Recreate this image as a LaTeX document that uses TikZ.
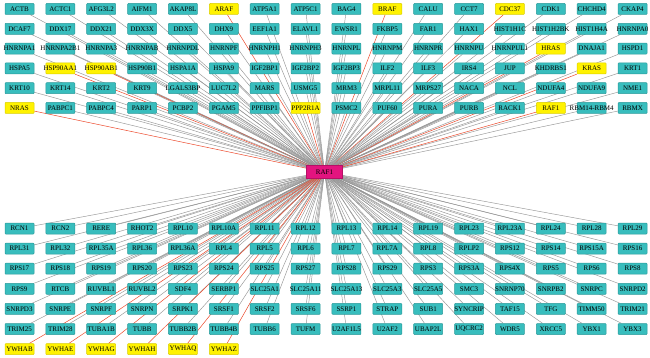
\documentclass[tikz,border=0pt]{standalone}
\usepackage{fontspec}
\setmainfont{Liberation Serif}
\pgfdeclarelayer{links}
\pgfsetlayers{links,main}
\definecolor{cteal}{HTML}{38BDBD}
\definecolor{ctealdk}{HTML}{2A9A9A}
\definecolor{cyellow}{HTML}{FFF200}
\definecolor{cmagenta}{HTML}{E3147F}
\definecolor{cwire}{HTML}{959595}
\definecolor{cred}{HTML}{EC4A2C}

\begin{document}
\begin{tikzpicture}[
  x=1pt, y=-1pt,
  font=\fontsize{7}{8}\selectfont,
  gene/.style={
    rectangle, rounded corners=0.8pt,
    fill=cteal, draw=ctealdk, line width=0.5pt,
    minimum width=29pt, minimum height=11pt, inner sep=0pt
  },
  hitbox/.style={fill=cyellow, draw=cyellow!85!black},
  hubbox/.style={
    rectangle, fill=cmagenta, draw=cmagenta!80!black, line width=0.5pt,
    minimum width=36pt, minimum height=13pt, inner sep=0pt
  },
  wire/.style={draw=cwire, line width=0.45pt},
  hitwire/.style={draw=cred, line width=0.5pt},
  % yellow partners, red links
  pick/ARAF/.style=hit#1, pick/BRAF/.style=hit#1, pick/CDC37/.style=hit#1,
  pick/HRAS/.style=hit#1, pick/KRAS/.style=hit#1, pick/NRAS/.style=hit#1,
  pick/HSP90AA1/.style=hit#1, pick/HSP90AB1/.style=hit#1,
  pick/PPP2R1A/.style=hit#1, pick/RAF1/.style=hit#1,
  pick/YWHAB/.style=hit#1, pick/YWHAE/.style=hit#1, pick/YWHAG/.style=hit#1,
  pick/YWHAH/.style=hit#1, pick/YWHAQ/.style=hit#1, pick/YWHAZ/.style=hit#1
]
\useasboundingbox (0,0) rectangle (650,358);

\node[hubbox] (hub) at (324.5,172) {RAF1};

% upper block
\foreach \genes [count=\ri from 0] in {
  {ACTB,ACTC1,AFG3L2,AIFM1,AKAP8L,ARAF,ATP5A1,ATP5C1,BAG4,BRAF,CALU,CCT7,CDC37,CDK1,CHCHD4,CKAP4},
  {DCAF7,DDX17,DDX21,DDX3X,DDX5,DHX9,EEF1A1,ELAVL1,EWSR1,FKBP5,FAR1,HAX1,HIST1H1C,HIST1H2BK,HIST1H4A,HNRNPA0},
  {HNRNPA1,HNRNPA2B1,HNRNPA3,HNRNPAB,HNRNPDL,HNRNPF,HNRNPH1,HNRNPH3,HNRNPL,HNRNPM,HNRNPR,HNRNPU,HNRNPUL1,HRAS,DNAJA1,HSPD1},
  {HSPA5,HSP90AA1,HSP90AB1,HSP90B1,HSPA1A,HSPA9,IGF2BP1,IGF2BP2,IGF2BP3,ILF2,ILF3,IRS4,JUP,KHDRBS1,KRAS,KRT1},
  {KRT10,KRT14,KRT2,KRT9,LGALS3BP,LUC7L2,MARS,USMG5,MRM3,MRPL11,MRPS27,NACA,NCL,NDUFA4,NDUFA9,NME1},
  {NRAS,PABPC1,PABPC4,PARP1,PCBP2,PGAM5,PPFIBP1,PPP2R1A,PSMC2,PUF60,PURA,PURB,RACK1,RAF1,RBM14-RBM4,RBMX}} {
  \foreach \g [count=\ci from 0] in \genes {
    \node[gene, pick/\g/.try=box] (\g) at ({19.5+40.87*\ci}, {9+19.8*\ri}) {\makebox[0pt]{\g}};
    \begin{pgfonlayer}{links}
      \draw[wire, pick/\g/.try=wire] (hub) -- (\g);
    \end{pgfonlayer}
  }
}

% lower block
\foreach \genes [count=\ri from 0] in {
  {RCN1,RCN2,RERE,RHOT2,RPL10,RPL10A,RPL11,RPL12,RPL13,RPL14,RPL19,RPL23,RPL23A,RPL24,RPL28,RPL29},
  {RPL31,RPL32,RPL35A,RPL36,RPL36A,RPL4,RPL5,RPL6,RPL7,RPL7A,RPL8,RPLP2,RPS12,RPS14,RPS15A,RPS16},
  {RPS17,RPS18,RPS19,RPS20,RPS23,RPS24,RPS25,RPS27,RPS28,RPS29,RPS3,RPS3A,RPS4X,RPS5,RPS6,RPS8},
  {RPS9,RTCB,RUVBL1,RUVBL2,SDF4,SERBP1,SLC25A1,SLC25A11,SLC25A13,SLC25A3,SLC25A5,SMC3,SNRNP70,SNRPB2,SNRPC,SNRPD2},
  {SNRPD3,SNRPE,SNRPF,SNRPN,SRPK1,SRSF1,SRSF2,SRSF6,SSRP1,STRAP,SUB1,SYNCRIP,TAF15,TFG,TIMM50,TRIM21},
  {TRIM25,TRIM28,TUBA1B,TUBB,TUBB2B,TUBB4B,TUBB6,TUFM,U2AF1L5,U2AF2,UBAP2L,UQCRC2,WDR5,XRCC5,YBX1,YBX3},
  {YWHAB,YWHAE,YWHAG,YWHAH,YWHAQ,YWHAZ}} {
  \foreach \g [count=\ci from 0] in \genes {
    \node[gene, pick/\g/.try=box] (\g) at ({19.5+40.87*\ci}, {228.5+20.1*\ri}) {\makebox[0pt]{\g}};
    \begin{pgfonlayer}{links}
      \draw[wire, pick/\g/.try=wire] (hub) -- (\g);
    \end{pgfonlayer}
  }
}

\end{tikzpicture}
\end{document}
